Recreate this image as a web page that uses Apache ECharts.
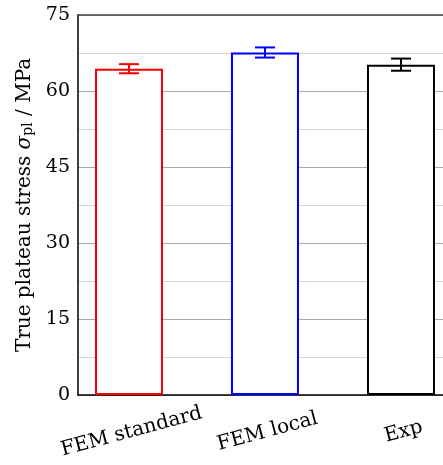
<!DOCTYPE html>
<html>
<head>
<meta charset="utf-8">
<script src="https://cdn.jsdelivr.net/npm/echarts@6/dist/echarts.min.js"></script>
<style>
  html, body { margin: 0; padding: 0; background: #fff; }
  #main { width: 443px; height: 465px; }
</style>
</head>
<body>
<div id="main"></div>
<script>
var categories = ['FEM standard', 'FEM local', 'Exp'];
var values = [64.4, 67.6, 65.2];
var errors = [0.9, 1.0, 1.2];
var colors = ['#ff0000', '#0000ff', '#000000'];
var yTicks = [0, 15, 30, 45, 60, 75];

var font = 'DejaVu Serif';
var chart = echarts.init(document.getElementById('main'));

var barData = values.map(function (v, i) {
  return {
    value: [i, v],
    itemStyle: { color: '#fff', borderColor: colors[i], borderWidth: 2 }
  };
});
var errData = values.map(function (v, i) {
  return [i, v - errors[i], v + errors[i]];
});

// the frame goes past the right edge of the picture, so no right border
var option = {
  animation: false,
  grid: { left: 78, right: 0, top: 15, bottom: 70 },
  xAxis: [{
    type: 'value',
    min: -0.375,
    max: 2.309,
    splitLine: { show: false },
    axisLine: { show: true, onZero: false, lineStyle: { color: '#000', width: 1.5 } },
    axisTick: { show: false },
    axisLabel: {
      customValues: [0, 1, 2],
      formatter: function (v) { return categories[Math.round(v)]; },
      rotate: 15,
      align: 'center',
      verticalAlign: 'top',
      margin: 27,
      fontFamily: font,
      fontSize: 20,
      color: '#000'
    }
  }, {
    type: 'value',
    position: 'top',
    min: -0.375,
    max: 2.309,
    splitLine: { show: false },
    axisLine: { show: true, onZero: false, lineStyle: { color: '#444', width: 1.5 } },
    axisTick: { show: false },
    axisLabel: { show: false }
  }],
  yAxis: {
    type: 'value',
    min: yTicks[0],
    max: yTicks[yTicks.length - 1],
    interval: 15,
    name: 'True plateau stress {i|σ}{sub|pl} / MPa',
    nameLocation: 'middle',
    nameGap: 42,
    nameTextStyle: {
      fontFamily: font,
      fontSize: 20,
      color: '#000',
      rich: {
        i: { fontFamily: font, fontSize: 20, fontStyle: 'italic', color: '#000' },
        sub: { fontFamily: font, fontSize: 14, color: '#000', verticalAlign: 'bottom', lineHeight: 14, padding: [8, 0, 0, 0] }
      }
    },
    axisLine: { show: true, onZero: false, lineStyle: { color: '#000', width: 1.5 } },
    axisTick: { show: false },
    axisLabel: { fontFamily: font, fontSize: 19, color: '#000', margin: 8 },
    splitLine: { show: true, lineStyle: { color: '#a8a8a8', width: 1.2 } },
    minorTick: { show: false, splitNumber: 2 },
    minorSplitLine: { show: true, lineStyle: { color: '#d6d6d6', width: 1.2 } }
  },
  series: [
    {
      type: 'bar',
      barWidth: 68,
      data: barData,
      z: 2
    },
    {
      type: 'custom',
      z: 3,
      data: errData,
      renderItem: function (params, api) {
        var i = api.value(0);
        var lo = api.coord([i, api.value(1)]);
        var hi = api.coord([i, api.value(2)]);
        var hw = 10;
        var st = { stroke: colors[params.dataIndex], lineWidth: 2 };
        return {
          type: 'group',
          children: [
            { type: 'line', shape: { x1: lo[0], y1: lo[1], x2: hi[0], y2: hi[1] }, style: st },
            { type: 'line', shape: { x1: lo[0] - hw, y1: lo[1], x2: lo[0] + hw, y2: lo[1] }, style: st },
            { type: 'line', shape: { x1: hi[0] - hw, y1: hi[1], x2: hi[0] + hw, y2: hi[1] }, style: st }
          ]
        };
      }
    }
  ]
};
chart.setOption(option);
</script>
</body>
</html>
